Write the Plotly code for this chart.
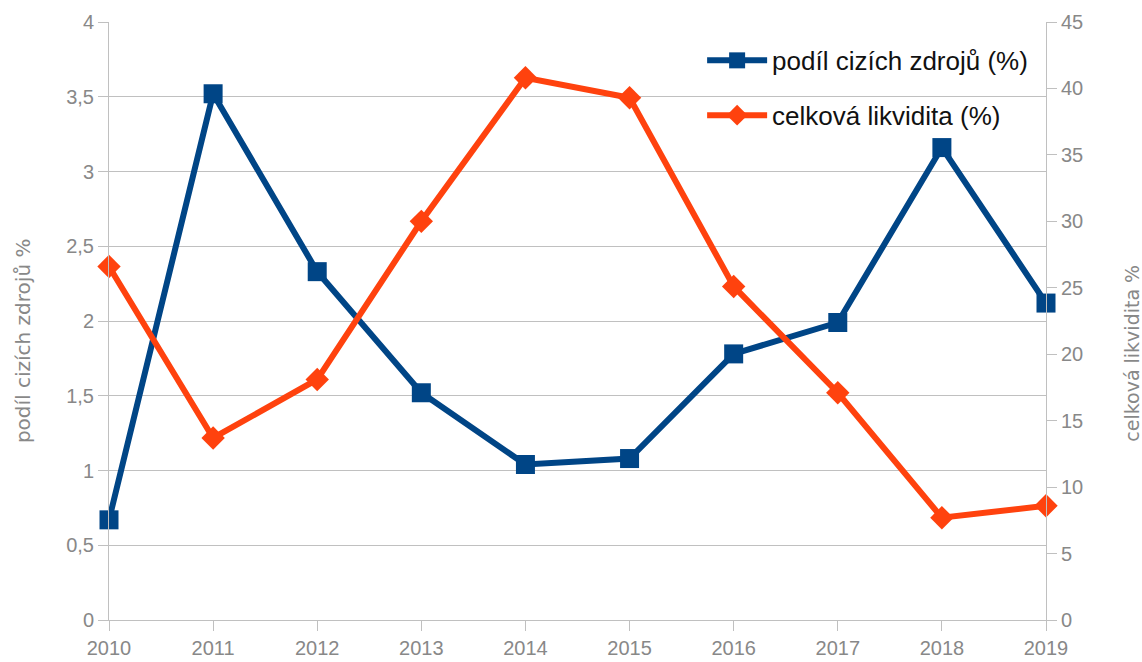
import plotly.graph_objects as go

years = [2010, 2011, 2012, 2013, 2014, 2015, 2016, 2017, 2018, 2019]
podil = [0.67, 3.52, 2.33, 1.52, 1.04, 1.08, 1.78, 1.99, 3.16, 2.12]
likvidita = [26.6, 13.7, 18.1, 30.0, 40.8, 39.3, 25.1, 17.1, 7.7, 8.6]

name_podil = "podíl cizích zdrojů (%)"
name_likv = "celková likvidita (%)"
title_left = "podíl cizích zdrojů %"
title_right = "celková likvidita %"

BLUE = "#004586"
ORANGE = "#ff420e"
GRAY = "#888888"
GRID = "#c0c0c0"
FONT = "Liberation Sans, Arial, sans-serif"
TFONT = "DejaVu Sans, Liberation Sans, sans-serif"

fig = go.Figure()
fig.add_trace(go.Scatter(
    x=years, y=podil, name=name_podil, mode="lines+markers",
    line=dict(color=BLUE, width=6),
    marker=dict(symbol="square", size=19, color=BLUE),
    cliponaxis=False, legendgroup="a", yaxis="y"))
fig.add_trace(go.Scatter(
    x=years, y=likvidita, name=name_likv, mode="lines+markers",
    line=dict(color=ORANGE, width=6),
    marker=dict(symbol="diamond", size=18, color=ORANGE),
    cliponaxis=False, legendgroup="b", yaxis="y2"))

fig.update_layout(
    width=1142, height=662,
    margin=dict(l=109, r=96, t=22, b=42, autoexpand=False),
    plot_bgcolor="white", paper_bgcolor="white",
    separators=", ",
    font=dict(family=FONT, color=GRAY, size=20),
    showlegend=True,
    legend=dict(x=0.633, y=0.975, xanchor="left", yanchor="top",
                bgcolor="rgba(0,0,0,0)", font=dict(size=26, color="#111111"),
                traceorder="grouped", tracegroupgap=18, itemwidth=60),
    xaxis=dict(range=[2010, 2019], tickmode="array", tickvals=years,
               ticktext=[str(y) for y in years], automargin=False,
               showgrid=False, showline=True, linecolor=GRID, linewidth=1,
               ticks="outside", ticklen=10, tickwidth=1, tickcolor=GRID,
               tickfont=dict(size=20, color=GRAY), zeroline=False),
    yaxis=dict(range=[0, 4], dtick=0.5, showgrid=True, gridcolor=GRID, gridwidth=1,
               automargin=False,
               showline=True, linecolor=GRID, ticks="outside", ticklen=10, tickwidth=1,
               tickcolor=GRID,
               tickfont=dict(size=20, color=GRAY), zeroline=False),
    yaxis2=dict(range=[0, 45], dtick=5, overlaying="y", side="right", showgrid=False,
                automargin=False,
                showline=True, linecolor=GRID, ticks="outside", ticklen=10, tickwidth=1,
                tickcolor=GRID,
                tickfont=dict(size=20, color=GRAY), zeroline=False),
    annotations=[
        dict(text=title_left, xref="paper", yref="paper", x=-0.0918, y=0.468,
             xanchor="center", yanchor="middle", textangle=-90, showarrow=False,
             font=dict(family=TFONT, size=20, color=GRAY)),
        dict(text=title_right, xref="paper", yref="paper", x=1.0915, y=0.4465,
             xanchor="center", yanchor="middle", textangle=-90, showarrow=False,
             font=dict(family=TFONT, size=19, color=GRAY)),
    ],
)

fig.write_html("out.html", config={"displayModeBar": False},
               post_script="document.body.style.margin='0';document.body.style.overflow='hidden';")
